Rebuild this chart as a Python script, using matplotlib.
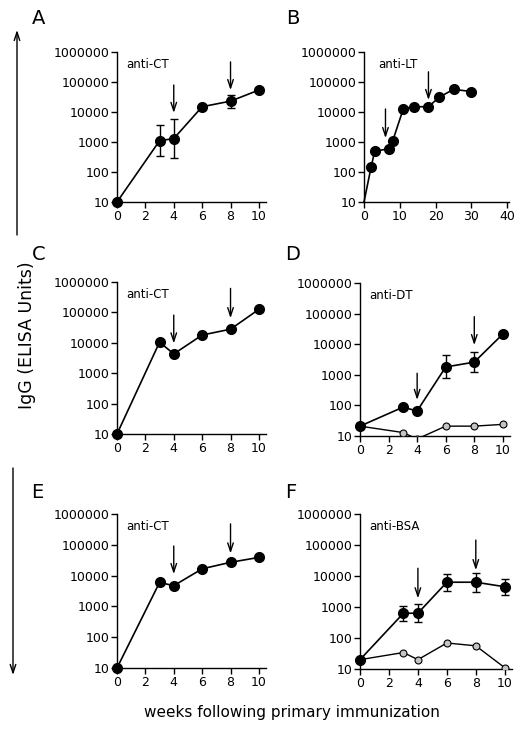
import numpy as np
import matplotlib
matplotlib.use("Agg")
import matplotlib.pyplot as plt

plt.rcParams['font.family'] = ['DejaVu Sans']

W, H = 524, 729

# ---- data (IgG ELISA units) ----
weeks = [0, 3, 4, 6, 8, 10]

a_igg = [10, 1100, 1300, 15000, 23000, 54000]
a_lo = [10, 350, 290, 15000, 14000, 54000]
a_hi = [10, 3700, 6000, 15000, 37000, 54000]
a_boost = [4, 8]

b_weeks = [0, 2, 3, 7, 8, 11, 14, 18, 21, 25, 30]
b_igg = [10, 150, 500, 590, 1070, 13000, 15000, 15000, 31000, 57000, 48000]
b_boost = [6, 18]

c_igg = [10, 10500, 4300, 18000, 28000, 126000]
c_boost = [4, 8]

d_igg = [21, 87, 66, 1800, 2600, 21500]
d_lo = [21, 87, 66, 800, 1260, 21500]
d_hi = [21, 87, 66, 4500, 5600, 21500]
d_ctrl = [21, 13, 8, 21, 21, 24]
d_boost = [4, 8]

e_igg = [10, 6000, 4700, 16600, 27000, 39000]
e_boost = [4, 8]

f_igg = [20, 630, 630, 6300, 6300, 4500]
f_lo = [20, 360, 320, 3400, 2950, 2450]
f_hi = [20, 1070, 1240, 11500, 12500, 8300]
f_ctrl = [20, 34, 20, 69, 56, 11]
f_boost = [4, 8]

yticks = [10, 100, 1000, 10000, 100000, 1000000]

ARROW = '->,head_length=0.6,head_width=0.2'

fig = plt.figure(figsize=(W / 100, H / 100), dpi=100)


def make_ax(l, t, r, b, xmax):
    ax = fig.add_axes([l / W, 1 - b / H, (r - l) / W, (b - t) / H])
    ax.set_yscale('log')
    ax.set_ylim(10, 1e6)
    ax.set_xlim(0, xmax)
    ax.set_yticks(yticks)
    ax.set_yticklabels([str(v) for v in yticks])
    ax.yaxis.set_minor_locator(matplotlib.ticker.NullLocator())
    for s in ['top', 'right']:
        ax.spines[s].set_visible(False)
    for s in ['left', 'bottom']:
        ax.spines[s].set_linewidth(1.0)
    ax.tick_params(direction='out', length=4, width=1, labelsize=9, pad=1.5)
    ax.patch.set_alpha(0)
    return ax


def arrows(ax, xs, spans):
    # immunization boosts
    for x, (top, tip) in zip(xs, spans):
        ax.annotate('', xy=(x, 10 ** tip), xytext=(x, 10 ** top),
                    arrowprops=dict(arrowstyle=ARROW, lw=1.0, color='black',
                                    shrinkA=0, shrinkB=0))


def main_line(ax, x, y, lo=None, hi=None):
    if lo is not None:
        y_arr = np.array(y, float)
        err = [y_arr - np.array(lo), np.array(hi) - y_arr]
        ax.errorbar(x, y, yerr=err, fmt='none', ecolor='black', elinewidth=1,
                    capsize=3, capthick=1, zorder=2)
    ax.plot(x, y, '-o', color='black', lw=1.2, ms=7, mfc='black', mec='black',
            clip_on=False, zorder=3)


def ctrl_line(ax, x, y):
    ax.plot(x, y, '-', color='black', lw=1.0, zorder=2)
    ax.plot(x, y, 'o', ms=5, mfc='#c4c4c4', mec='black', mew=0.8, zorder=3)


# A
ax = make_ax(117, 52, 266, 202, 10.5)
ax.set_xticks([0, 2, 4, 6, 8, 10])
main_line(ax, weeks, a_igg, a_lo, a_hi)
arrows(ax, a_boost, [(4.9, 3.97), (5.67, 4.73)])
ax.text(0.06, 0.92, 'anti-CT', transform=ax.transAxes, fontsize=8.5, va='center')

# B
ax = make_ax(364, 52, 509, 202, 40.5)
ax.set_xticks([0, 10, 20, 30, 40])
ax.plot(b_weeks, b_igg, '-o', color='black', lw=1.2, ms=7,
        markevery=list(range(1, len(b_weeks))), clip_on=False, zorder=3)
arrows(ax, b_boost, [(4.1, 3.13), (5.34, 4.4)])
ax.text(0.1, 0.92, 'anti-LT', transform=ax.transAxes, fontsize=8.5, va='center')

# C
ax = make_ax(117, 282, 266, 434, 10.5)
ax.set_xticks([0, 2, 4, 6, 8, 10])
main_line(ax, weeks, c_igg)
arrows(ax, c_boost, [(4.91, 3.98), (5.79, 4.81)])
ax.text(0.06, 0.92, 'anti-CT', transform=ax.transAxes, fontsize=8.5, va='center')

# D
ax = make_ax(360, 283, 510, 436, 10.5)
ax.set_xticks([0, 2, 4, 6, 8, 10])
ctrl_line(ax, weeks, d_ctrl)
main_line(ax, weeks, d_igg, d_lo, d_hi)
arrows(ax, d_boost, [(3.05, 2.18), (4.9, 3.97)])
ax.text(0.06, 0.92, 'anti-DT', transform=ax.transAxes, fontsize=8.5, va='center')

# E
ax = make_ax(117, 514, 266, 668, 10.5)
ax.set_xticks([0, 2, 4, 6, 8, 10])
main_line(ax, weeks, e_igg)
arrows(ax, e_boost, [(4.96, 4.05), (5.68, 4.72)])
ax.text(0.06, 0.92, 'anti-CT', transform=ax.transAxes, fontsize=8.5, va='center')

# F
ax = make_ax(360, 514, 512, 669, 10.5)
ax.set_xticks([0, 2, 4, 6, 8, 10])
ctrl_line(ax, weeks, f_ctrl)
main_line(ax, weeks, f_igg, f_lo, f_hi)
arrows(ax, f_boost, [(4.25, 3.28), (5.16, 4.19)])
ax.text(0.06, 0.92, 'anti-BSA', transform=ax.transAxes, fontsize=8.5, va='center')

# panel letters
for lab, (px, py) in zip('ABCDEF', [(39, 19), (293, 19), (39, 254), (293, 254), (37, 493), (291, 492)]):
    fig.text(px / W, 1 - py / H, lab, fontsize=14, ha='center', va='center')

# y label with long arrows
fig.text(27 / W, 1 - 335 / H, 'IgG (ELISA Units)', rotation=90, fontsize=12.5,
         ha='center', va='center')
for x0, y0, y1 in [(17, 235, 30), (13, 468, 675)]:
    fig.add_artist(matplotlib.patches.FancyArrowPatch(
        (x0 / W, 1 - y0 / H), (x0 / W, 1 - y1 / H), transform=fig.transFigure,
        arrowstyle=ARROW, mutation_scale=10, lw=1.0, color='black',
        shrinkA=0, shrinkB=0))

fig.text(292 / W, 1 - 712 / H, 'weeks following primary immunization', fontsize=11,
         ha='center', va='center')

fig.savefig('out.png', dpi=100)
